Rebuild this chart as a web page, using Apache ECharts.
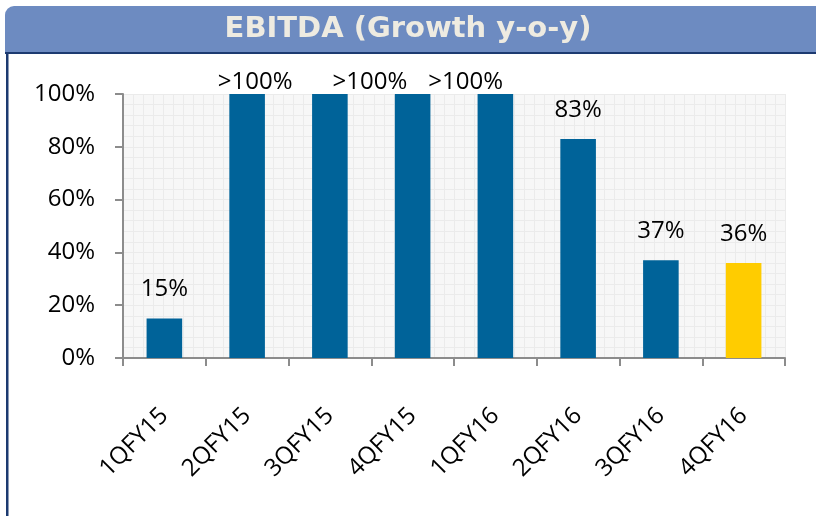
<!DOCTYPE html>
<html><head><meta charset="utf-8">
<script src="https://cdn.jsdelivr.net/npm/echarts@6/dist/echarts.min.js"></script>
<style>html,body{margin:0;padding:0;background:#fff}#c{width:816px;height:516px}</style>
</head><body><div id="c"></div>
<script>
const titleText = 'EBITDA (Growth y-o-y)';
const categories = ['1QFY15','2QFY15','3QFY15','4QFY15','1QFY16','2QFY16','3QFY16','4QFY16'];
const values = [15, 100, 100, 100, 100, 83, 37, 36];
const valueLabels = ['15%','>100%','>100%','>100%','','83%','37%','36%'];
const yTicks = [0, 20, 40, 60, 80, 100];
const highlightIndex = 7;

const FONT = '"Open Sans", sans-serif';
const labelShift = [[0,0],[8,17],[40,17],[53,17],[0,17],[0,0],[0,0],[0,0]];

const chart = echarts.init(document.getElementById('c'), null, {renderer:'canvas'});
chart.setOption({
  animation: false,
  backgroundColor: '#ffffff',
  graphic: [
    {type:'rect', shape:{x:5, y:6, width:820, height:47, r:[9,0,0,0]}, style:{fill:'#6d8bc1'}, z:0},
    {type:'rect', shape:{x:5, y:52, width:820, height:2}, style:{fill:'#1c3a70'}, z:1},
    {type:'rect', shape:{x:6, y:52, width:2.5, height:470}, style:{fill:'#1c3a70'}, z:1},
    {type:'text', left:'center', top:15, style:{text:titleText, fill:'#eeebe1', font:'bold 29px "DejaVu Sans", sans-serif'}, z:2}
  ],
  grid: {left:123, right:31, top:94, bottom:158, show:true, backgroundColor:'#f7f7f7', borderWidth:0},
  xAxis: [{
    type:'category', data:categories,
    axisLine:{lineStyle:{color:'#8c8c8c', width:2}},
    axisTick:{show:true, length:8, lineStyle:{color:'#8c8c8c', width:2}},
    axisLabel:{rotate:45, margin:54, color:'#000', fontSize:24, fontFamily:FONT},
    splitLine:{show:false}
  },{
    type:'value', min:0, max:66, interval:1, show:true, position:'top',
    axisLine:{show:false}, axisTick:{show:false}, axisLabel:{show:false},
    splitLine:{show:true, lineStyle:{color:'#ebebeb', width:1}}
  }],
  yAxis: {
    type:'value', min:0, max:100, interval:20,
    axisLine:{show:true, lineStyle:{color:'#8c8c8c', width:2}},
    axisTick:{show:true, length:8, lineStyle:{color:'#8c8c8c', width:2}},
    axisLabel:{formatter:v => yTicks.includes(v) ? v + '%' : '', margin:28, color:'#000', fontSize:24, fontFamily:FONT},
    splitLine:{show:true, lineStyle:{color:'#ebebeb'}},
    minorTick:{show:false, splitNumber:5},
    minorSplitLine:{show:true, lineStyle:{color:'#ebebeb'}}
  },
  series: [{
    type:'bar', xAxisIndex:0, barWidth:'43%',
    data: values.map((v,i)=>({
      value:v,
      itemStyle:{color: i===highlightIndex ? '#ffcc00' : '#006399'},
      label:{show: valueLabels[i] !== '', formatter: valueLabels[i], offset: labelShift[i]}
    })),
    label:{show:true, position:'top', distance:17, color:'#000', fontSize:24, fontFamily:FONT},
    z:5
  }]
});
</script></body></html>
